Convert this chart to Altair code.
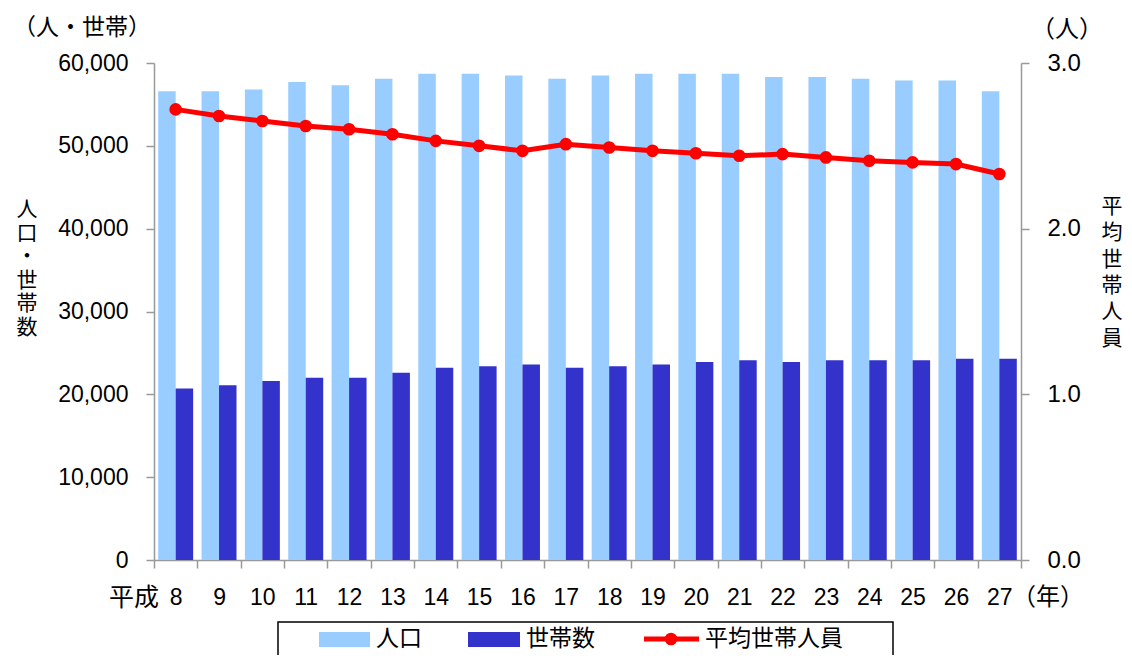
import altair as alt
import pandas as pd

years = ["8", "9", "10", "11", "12", "13", "14", "15", "16", "17",
         "18", "19", "20", "21", "22", "23", "24", "25", "26", "27"]
population = [56600, 56600, 56800, 57700, 57300, 58100, 58700, 58700, 58500, 58100,
              58500, 58700, 58700, 58700, 58300, 58300, 58100, 57900, 57900, 56600]
households = [20700, 21100, 21600, 22000, 22000, 22600, 23200, 23400, 23600, 23200,
              23400, 23600, 23900, 24100, 23900, 24100, 24100, 24100, 24300, 24300]
avg_size = [2.72, 2.68, 2.65, 2.62, 2.60, 2.57, 2.53, 2.50, 2.47, 2.51,
            2.49, 2.47, 2.455, 2.44, 2.45, 2.43, 2.41, 2.40, 2.39, 2.33]
series_names = ["人口", "世帯数"]
series_colors = ["#99CCFF", "#3333CC"]
line_name = "平均世帯人員"
line_color = "#FF0000"
left_ticks = [0, 10000, 20000, 30000, 40000, 50000, 60000]
right_ticks = [0, 1, 2, 3]

JP = "Noto Sans CJK JP"
NUM = "Liberation Sans"
AXIS_GRAY = "#999999"

bar_df = pd.DataFrame(
    [{"year": y, "series": series_names[0], "value": v} for y, v in zip(years, population)]
    + [{"year": y, "series": series_names[1], "value": v} for y, v in zip(years, households)]
)
line_df = pd.DataFrame({"year": years, "avg": avg_size})

W, H = 867, 497

bars = alt.Chart(bar_df).mark_bar().encode(
    x=alt.X("year:N", sort=years,
            scale=alt.Scale(paddingInner=0, paddingOuter=0),
            axis=alt.Axis(title=None, labelAngle=0, tickBand="extent", tickSize=8,
                          labelPadding=18, labelFontSize=23, labelFont=NUM,
                          labelColor="black", domainColor=AXIS_GRAY, tickColor=AXIS_GRAY,
                          domainWidth=1.5, tickWidth=1.5, grid=False)),
    xOffset=alt.XOffset("series:N", sort=series_names,
                        scale=alt.Scale(paddingInner=0, paddingOuter=0.24)),
    y=alt.Y("value:Q", scale=alt.Scale(domain=[0, 60000], nice=False),
            axis=alt.Axis(title=None, values=left_ticks, format=",.0f", tickSize=8,
                          labelPadding=18, labelFontSize=23, labelFont=NUM,
                          labelColor="black", domainColor=AXIS_GRAY, tickColor=AXIS_GRAY,
                          domainWidth=1.5, tickWidth=1.5, grid=False)),
    color=alt.Color("series:N", scale=alt.Scale(domain=series_names, range=series_colors),
                    legend=None),
)

line = alt.Chart(line_df).mark_line(
    color=line_color, strokeWidth=5,
    point=alt.OverlayMarkDef(filled=True, color=line_color, size=160, opacity=1),
).encode(
    x=alt.X("year:N", sort=years),
    y=alt.Y("avg:Q", scale=alt.Scale(domain=[0, 3], nice=False),
            axis=alt.Axis(orient="right", title=None, values=right_ticks, format=".1f",
                          tickSize=8, labelPadding=18, labelFontSize=24, labelFont=NUM,
                          labelColor="black", domainColor=AXIS_GRAY, tickColor=AXIS_GRAY,
                          domainWidth=1.5, tickWidth=1.5, grid=False)),
)


def label(txt, x, y, size, align="center", baseline="middle", lh=None):
    kw = dict(font=JP, fontSize=size, align=align, baseline=baseline, color="black")
    if lh is not None:
        kw["lineHeight"] = lh
    return alt.Chart(alt.Data(values=[{}])).mark_text(**kw).encode(
        x=alt.value(x), y=alt.value(y), text=alt.value(txt)
    )


texts = [
    label("（人・世帯）", -72, -35, 23),
    label("（人）", 913, -33, 24),
    label(["人", "口", "・", "世", "帯", "数"], -127, 147, 21, lh=23.5),
    label(["平", "均", "世", "帯", "人", "員"], 958, 144, 21, lh=26.3),
    label("平成", -20, 535, 25),
    label("（年）", 894, 535, 24),
]

LY = 576
one = alt.Data(values=[{}])
legend_box = alt.Chart(one).mark_rect(fill="white", fillOpacity=0, stroke="black",
                                      strokeWidth=1.5).encode(
    x=alt.value(124), x2=alt.value(739), y=alt.value(559), y2=alt.value(620))
leg_r1 = alt.Chart(one).mark_rect(color=series_colors[0]).encode(
    x=alt.value(165), x2=alt.value(216), y=alt.value(LY - 7), y2=alt.value(LY + 8))
leg_t1 = label(series_names[0], 222, LY, 23, align="left")
leg_r2 = alt.Chart(one).mark_rect(color=series_colors[1]).encode(
    x=alt.value(314), x2=alt.value(366), y=alt.value(LY - 7), y2=alt.value(LY + 8))
leg_t2 = label(series_names[1], 372, LY, 23, align="left")
leg_l = alt.Chart(one).mark_rule(color=line_color, strokeWidth=5).encode(
    x=alt.value(490), x2=alt.value(545), y=alt.value(LY))
leg_p = alt.Chart(one).mark_point(filled=True, color=line_color, size=160, opacity=1).encode(
    x=alt.value(517), y=alt.value(LY))
leg_t3 = label(line_name, 551, LY, 23, align="left")

chart = alt.layer(
    bars, line, *texts, legend_box, leg_r1, leg_t1, leg_r2, leg_t2, leg_l, leg_p, leg_t3
).resolve_scale(y="independent").properties(
    width=W, height=H,
    autosize=alt.AutoSizeParams(type="none"),
    padding={"left": 146, "top": 55, "right": 103, "bottom": 95},
).configure_view(stroke=None)

chart.save("out.html", embed_options={"renderer": "svg", "actions": False})
